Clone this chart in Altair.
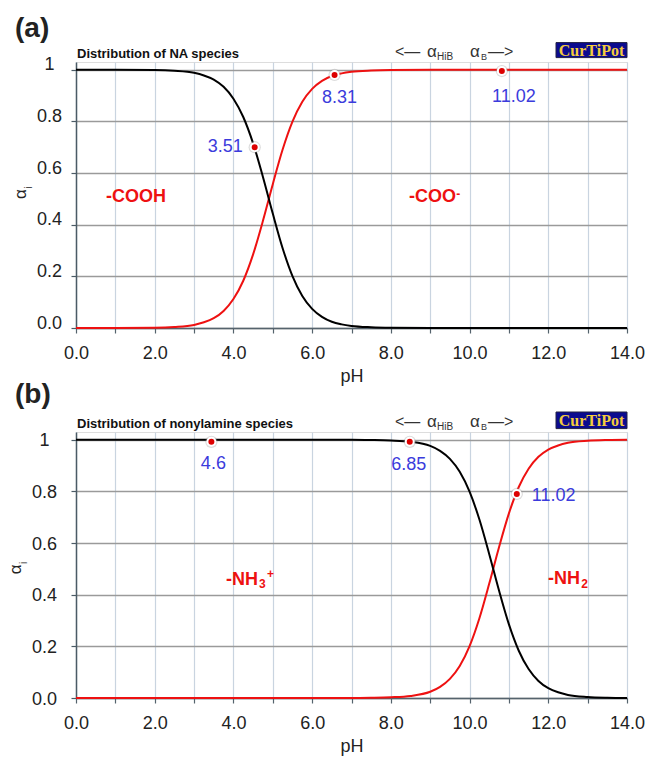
import altair as alt
import pandas as pd

# ---- Panel (a): nonanoic acid (NA) species ----
ph_a = [0, 1, 2, 2.5, 3, 3.25, 3.5, 3.75, 4, 4.25, 4.5, 4.75, 5, 5.25, 5.5,
        5.75, 6, 6.25, 6.5, 6.75, 7, 7.5, 8, 9, 10, 11, 12, 13, 14]
cooh_a = [1.000, 1.000, 0.999, 0.996, 0.988, 0.978, 0.962, 0.934, 0.888, 0.817,
          0.715, 0.585, 0.443, 0.309, 0.201, 0.124, 0.074, 0.043, 0.024, 0.014,
          0.008, 0.003, 0.001, 0.000, 0.000, 0.000, 0.000, 0.000, 0.000]
coo_a = [0.000, 0.000, 0.001, 0.004, 0.012, 0.022, 0.038, 0.066, 0.112, 0.183,
         0.285, 0.415, 0.557, 0.691, 0.799, 0.876, 0.926, 0.957, 0.976, 0.986,
         0.992, 0.997, 0.999, 1.000, 1.000, 1.000, 1.000, 1.000, 1.000]
marker_ph_a = [4.54, 6.57, 10.82]
marker_alpha_a = [0.70, 0.98, 0.995]
marker_text_a = ["3.51", "8.31", "11.02"]

# ---- Panel (b): nonylamine species ----
ph_b = [0, 2, 4, 6, 7, 7.5, 8, 8.5, 9, 9.25, 9.5, 9.75, 10, 10.25, 10.5,
        10.75, 11, 11.25, 11.5, 11.75, 12, 12.25, 12.5, 13, 13.5, 14]
nh3_b = [1.000, 1.000, 1.000, 1.000, 1.000, 0.999, 0.997, 0.992, 0.976, 0.957,
         0.926, 0.876, 0.799, 0.691, 0.557, 0.415, 0.285, 0.183, 0.112, 0.066,
         0.038, 0.022, 0.012, 0.004, 0.001, 0.000]
nh2_b = [0.000, 0.000, 0.000, 0.000, 0.000, 0.001, 0.003, 0.008, 0.024, 0.043,
         0.074, 0.124, 0.201, 0.309, 0.443, 0.585, 0.715, 0.817, 0.888, 0.934,
         0.962, 0.978, 0.988, 0.996, 0.999, 1.000]
marker_ph_b = [3.44, 8.48, 11.20]
marker_alpha_b = [0.992, 0.992, 0.79]
marker_text_b = ["4.6", "6.85", "11.02"]

x_ticks = list(range(0, 15))
y_ticks = [0, 0.2, 0.4, 0.6, 0.8, 1]

W, H = 551, 266
FONT = "Liberation Sans"
RED = "#ee1111"
DOT = "#dd0000"
BLUE = "#3b3bdc"
INK = "#222222"

x_scale = alt.Scale(domain=[0, 14], nice=False, zero=False)
y_scale = alt.Scale(domain=[0, 1.03], nice=False)

X_AXIS = alt.Axis(
    values=x_ticks,
    labelExpr="datum.value % 2 == 0 ? format(datum.value, '.1f') : ''",
    grid=True, gridColor="#c9d4e0", gridWidth=1.2,
    domainColor="#55636d", domainWidth=1.5,
    tickColor="#55636d", tickSize=5, tickWidth=1.2,
    labelFont=FONT, labelFontSize=18, labelColor=INK, labelPadding=11,
    labelOverlap=False, labelFlush=False,
    titleFont=FONT, titleFontSize=18, titleFontWeight="normal",
    titleColor=INK, titlePadding=5,
)


def y_axis(pad, offset):
    # tick labels are centred in a column to the left of the axis
    return alt.Axis(
        values=y_ticks,
        labelExpr="datum.value == 1 ? '1' : format(datum.value, '.1f')",
        grid=True, gridColor="#9a9a9a", gridWidth=1.4,
        domainColor="#4b5b66", domainWidth=1.5,
        tickColor="#4b5b66", tickSize=5, tickWidth=1.2,
        labelFont=FONT, labelFontSize=18, labelColor=INK,
        labelAlign="center", labelPadding=pad, labelOffset=offset,
        labelOverlap=False,
    )


def xy(yax, yfield="alpha"):
    return dict(
        x=alt.X("pH:Q", scale=x_scale, axis=X_AXIS, title="pH"),
        y=alt.Y(f"{yfield}:Q", scale=y_scale, axis=yax, title=None),
    )


def note(text, x, y, size, color=INK, weight="normal", align="left",
         baseline="alphabetic", font=FONT, angle=0):
    return alt.Chart(pd.DataFrame({"t": [text]})).mark_text(
        x=x, y=y, fontSize=size, color=color, fontWeight=weight,
        align=align, baseline=baseline, font=font, angle=angle,
    ).encode(text="t:N")


def data_note(yax, text, ph, alpha, size, weight="bold", color=RED):
    df = pd.DataFrame({"pH": [ph], "alpha": [alpha], "t": [text]})
    return alt.Chart(df).mark_text(
        fontSize=size, color=color, fontWeight=weight, font=FONT,
        align="left", baseline="middle",
    ).encode(text="t:N", **xy(yax))


def header(tag, tag_y, heading, badge_top, badge_bottom):
    layers = [
        note(tag, -61, tag_y, 28, weight="bold", baseline="middle"),
        note(heading, 1, -4, 13, color="#111111", weight="bold"),
        note("<\u2014", 319, -5, 16, color="#333333"),
        note("\u03b1", 351, -5, 17, color="#333333"),
        note("HiB", 361, -2.5, 10, color="#333333"),
        note("\u03b1", 394, -5, 17, color="#333333"),
        note("B", 405, -2.5, 9, color="#333333"),
        note("\u2014>", 412, -5, 16, color="#333333"),
    ]
    badge = alt.Chart(pd.DataFrame({"t": [0]})).mark_rect(
        fill="#0b0b8f", stroke="#222244", strokeWidth=1
    ).encode(
        x=alt.value(480), x2=alt.value(551),
        y=alt.value(badge_top), y2=alt.value(badge_bottom),
    )
    badge_text = note("CurTiPot", 515.5, (badge_top + badge_bottom) / 2 + 0.5, 16,
                      color="#f4cc3c", weight="bold", align="center",
                      baseline="middle", font="Liberation Serif")
    return layers + [badge, badge_text]


def panel(yax, ph, acid, base, m_ph, m_alpha, m_text, label_place,
          alpha_xy, sub_xy):
    curves = pd.DataFrame({"pH": ph, "acid": acid, "base": base})
    red = alt.Chart(curves).mark_line(
        color=RED, strokeWidth=2, interpolate="monotone"
    ).encode(**xy(yax, "base"))
    black = alt.Chart(curves).mark_line(
        color="#000000", strokeWidth=2, interpolate="monotone"
    ).encode(**xy(yax, "acid"))
    marks = pd.DataFrame({"pH": m_ph, "alpha": m_alpha, "t": m_text})
    halo = alt.Chart(marks).mark_circle(
        size=150, color="#9a9a9a", opacity=0.35
    ).encode(**xy(yax))
    dots = alt.Chart(marks).mark_circle(
        size=64, color=DOT, stroke="white", strokeWidth=2, opacity=1
    ).encode(**xy(yax))
    labels = []
    for i, (align, dx, dy) in enumerate(label_place):
        one = pd.DataFrame({"pH": [m_ph[i]], "alpha": [m_alpha[i]], "t": [m_text[i]]})
        labels.append(
            alt.Chart(one).mark_text(
                align=align, baseline="middle", dx=dx, dy=dy,
                fontSize=18, color=BLUE, font=FONT,
            ).encode(text="t:N", **xy(yax))
        )
    ytitle = [
        note("\u03b1", alpha_xy[0], alpha_xy[1], 17, angle=270,
             align="center", baseline="middle"),
        note("i", sub_xy[0], sub_xy[1], 10, angle=270,
             align="center", baseline="middle"),
    ]
    return [red, black, halo, dots] + labels + ytitle


# ---- assemble panel (a) ----
yax_a = y_axis(22, -5)
layers_a = panel(
    yax_a, ph_a, cooh_a, coo_a, marker_ph_a, marker_alpha_a, marker_text_a,
    [("right", -12, 0), ("center", 5, 23), ("center", 12, 26)],
    (-55, 132), (-47.5, 125.5),
)
layers_a += [
    data_note(yax_a, "-COOH", 0.76, 0.507, 18),
    data_note(yax_a, "-COO", 8.46, 0.507, 18),
    data_note(yax_a, "-", 9.66, 0.52, 12),
]
layers_a += header("(a)", -33.4, "Distribution of NA species", -19.4, -4.4)
chart_a = alt.layer(*layers_a).properties(width=W, height=H)

# ---- assemble panel (b) ----
yax_b = y_axis(27, 1)
layers_b = panel(
    yax_b, ph_b, nh3_b, nh2_b, marker_ph_b, marker_alpha_b, marker_text_b,
    [("center", 2, 22), ("center", -1, 23), ("left", 15, 2)],
    (-60, 137.3), (-52.5, 130.8),
)
layers_b += [
    data_note(yax_b, "-NH", 3.81, 0.458, 18),
    data_note(yax_b, "3", 4.65, 0.442, 12),
    data_note(yax_b, "+", 4.85, 0.479, 12),
    data_note(yax_b, "-NH", 11.99, 0.459, 18),
    data_note(yax_b, "2", 12.84, 0.44, 12),
]
layers_b += header("(b)", -36.7, "Distribution of nonylamine species", -20, -3.4)
chart_b = alt.layer(*layers_b).properties(width=W, height=H)

chart = alt.vconcat(chart_a, chart_b, spacing=104, bounds="flush").properties(
    padding={"left": 6, "top": 14, "right": 5, "bottom": 5},
    background="white",
).configure_view(
    stroke="#86a2c0", strokeWidth=1.5,
).configure(
    font=FONT,
)

chart.save("out.html", embed_options={"renderer": "svg", "actions": False})
